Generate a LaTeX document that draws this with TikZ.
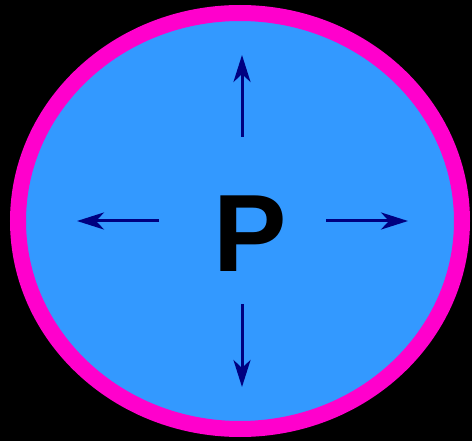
\documentclass[tikz,border=0pt]{standalone}
\usepackage{fontspec}
\setmainfont{Liberation Sans}
\usetikzlibrary{arrows.meta}
\definecolor{cellfill}{HTML}{3399FF}
\definecolor{cellrim}{HTML}{FF00CC}
\definecolor{pushc}{HTML}{000080}
\tikzset{
  rim/.style={draw=cellrim,fill=cellfill,line width=16pt},
  push/.style={-{Stealth[length=27pt,width=17pt,inset=8pt]},line width=3pt,draw=pushc},
  letter/.style={font=\fontsize{110}{110}\selectfont\bfseries,text=black,inner sep=0pt},
}

\begin{document}
\begin{tikzpicture}[x=1pt,y=-1pt]
    \fill[black] (0,0) rectangle (472,441);
    \useasboundingbox (0,0) rectangle (472,441);
    \draw[rim] (240,221) ellipse [x radius=222, y radius=208];

    \node[letter,anchor=base] (p) at (250,272) {P};

    % arrow ends
    \coordinate (n0) at (242,137); \coordinate (n1) at (242,55);
    \coordinate (s0) at (242,304); \coordinate (s1) at (242,387);
    \coordinate (w0) at (159,221); \coordinate (w1) at (77,221);
    \coordinate (e0) at (326,221); \coordinate (e1) at (408,221);

    \draw[push] (n0) -- (n1);
    \draw[push] (s0) -- (s1);
    \draw[push] (w0) -- (w1);
    \draw[push] (e0) -- (e1);
\end{tikzpicture}
\end{document}
